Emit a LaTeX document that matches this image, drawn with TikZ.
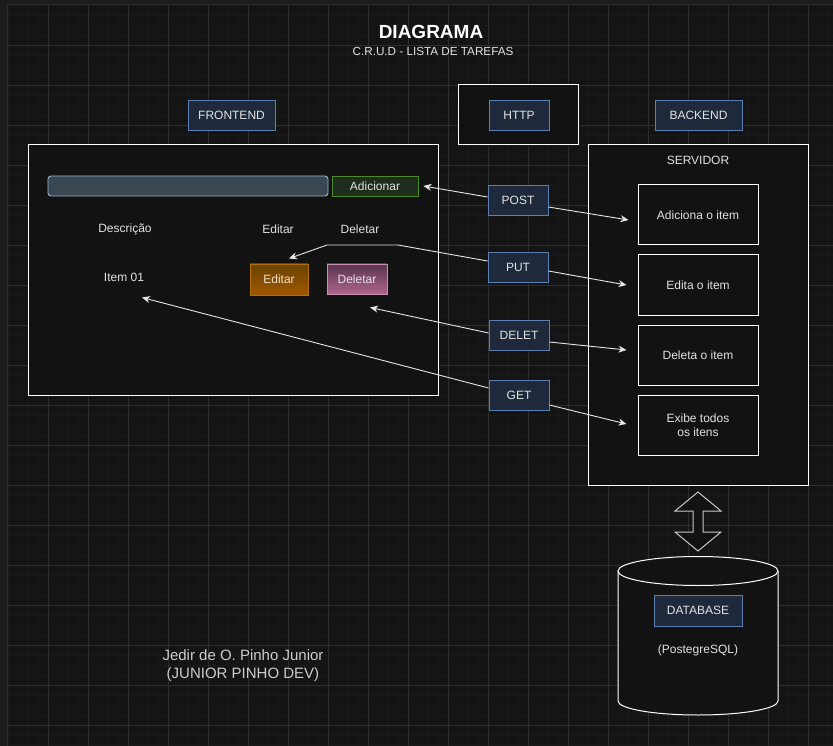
\documentclass[tikz,border=0pt]{standalone}
\usepackage{fontspec}
\setmainfont{Liberation Sans}
\usetikzlibrary{arrows.meta}
\definecolor{bgc}{HTML}{141414}
\definecolor{framec}{HTML}{1C1C1C}
\definecolor{edgec}{HTML}{2A2A2A}
\definecolor{minorc}{HTML}{191919}
\definecolor{majorc}{HTML}{2D2D2D}
\definecolor{boxfill}{HTML}{121212}
\definecolor{navyfill}{HTML}{1E2A3C}
\definecolor{navyline}{HTML}{5B7FAE}
\definecolor{txt}{HTML}{E2E2E2}
\definecolor{arr}{HTML}{E6E6E6}
\definecolor{inputfill}{HTML}{394853}
\definecolor{inputline}{HTML}{9AB8D0}
\definecolor{addfill}{HTML}{1F2E1C}
\definecolor{addline}{HTML}{4C8A2C}
\definecolor{edtop}{HTML}{6A4200}
\definecolor{edbot}{HTML}{A05800}
\definecolor{edline}{HTML}{B07000}
\definecolor{edtxt}{HTML}{F0E1C8}
\definecolor{dltop}{HTML}{58364E}
\definecolor{dlbot}{HTML}{B0648E}
\definecolor{dlline}{HTML}{C890B0}
\definecolor{sigc}{HTML}{CDCDCD}
\definecolor{dblc}{HTML}{C8C8C8}
\newcommand{\fs}[1]{\fontsize{#1}{#1}\selectfont}
\tikzset{
  lbl/.style={text=txt, font=\fs{12}, inner sep=0pt},
  navy/.style={draw=navyline, fill=navyfill, line width=0.9pt, text=txt, font=\fs{12}, inner sep=0pt, minimum width=60pt, minimum height=30pt},
  wbox/.style={draw=white, fill=boxfill, line width=1pt, inner sep=0pt},
  sbox/.style={wbox, text=txt, font=\fs{12}, minimum width=120pt, minimum height=60pt, align=center},
  conn/.style={draw=arr, line width=0.9pt, -{Stealth[length=8pt,width=7pt]}},
}
\begin{document}
\begin{tikzpicture}[x=1pt,y=-1pt]
\useasboundingbox (0,0) rectangle (833,746);
% background
\fill[framec] (0,0) rectangle (833,746);
\fill[bgc] (8,5) rectangle (833,746);
\foreach \i in {0,...,83} {\draw[minorc, line width=0.6pt] (8+10*\i,5) -- (8+10*\i,746);}
\foreach \j in {0,...,74} {\draw[minorc, line width=0.6pt] (8,5+10*\j) -- (833,5+10*\j);}
\foreach \i in {1,...,20} {\draw[majorc, line width=0.8pt] (8+40*\i,5) -- (8+40*\i,746);}
\foreach \j in {1,...,18} {\draw[majorc, line width=0.8pt] (8,5+40*\j) -- (833,5+40*\j);}
\draw[edgec, line width=1pt] (7.5,746) -- (7.5,4.5) -- (833,4.5);

% titles
\node[text=white, font=\bfseries\fs{19}, inner sep=0pt] (title) at (431,32) {DIAGRAMA};
\node[text=txt, font=\fs{11.7}, inner sep=0pt] (sub) at (433,51) {C.R.U.D - LISTA DE TAREFAS};

% header labels
\node[navy, minimum width=87pt] (fe) at (231.5,115) {FRONTEND};
\node[wbox, minimum width=120pt, minimum height=60pt] (httpbox) at (518,115) {};
\node[navy] (http) at (519,115) {HTTP};
\node[navy, minimum width=87pt] (be) at (698.5,115) {BACKEND};

% frontend panel
\node[wbox, minimum width=410pt, minimum height=250pt] (front) at (233,270) {};
\node[draw=inputline, fill=inputfill, line width=0.9pt, rounded corners=3pt, minimum width=280pt, minimum height=20pt, inner sep=0pt] (input) at (188,186) {};
\node[draw=addline, fill=addfill, line width=0.9pt, minimum width=86pt, minimum height=20pt, inner sep=0pt, text=txt, font=\fs{12}] (add) at (375,186) {Adicionar};
\node[lbl] (desc) at (125,229.5) {Descrição};
\node[lbl] (edh) at (278,229.5) {Editar};
\node[lbl] (dlh) at (360,229.5) {Deletar};
\node[lbl] (item) at (124,277.5) {Item 01};
\node[draw=edline, top color=edtop, bottom color=edbot, line width=0.9pt, minimum width=58pt, minimum height=31pt, inner sep=0pt, text=edtxt, font=\fs{12}] (edbtn) at (279,279.5) {Editar};
\node[draw=dlline, top color=dltop, bottom color=dlbot, line width=0.9pt, minimum width=60pt, minimum height=30pt, inner sep=0pt, text=txt, font=\fs{12}] (dlbtn) at (357,279) {Deletar};

% backend panel
\node[wbox, minimum width=220pt, minimum height=340pt] (serv) at (698,315) {};
\node[lbl] (servl) at (698,160.5) {SERVIDOR};
\node[sbox] (adi) at (698,215) {Adiciona o item};
\node[sbox] (edi) at (698,285) {Edita o item};
\node[sbox] (del) at (698,355) {Deleta o item};
\node[sbox] (exi) at (698,425) {Exibe todos\\[2pt]os itens};

% http methods
\node[navy] (post) at (518,200) {POST};
\node[navy] (put) at (518,267) {PUT};
\node[navy] (delet) at (519,335) {DELET};
\node[navy] (get) at (519,395) {GET};

% connectors
\draw[conn] ([yshift=3pt]post.west) -- ([xshift=5pt]add.east);
\draw[conn] ([yshift=-7pt]post.east) -- ([xshift=-9pt,yshift=-5pt]adi.west);
\draw[conn] ([yshift=6pt]put.west) -- (398,245) -- (327,245) -- ([xshift=10pt,yshift=5pt]edbtn.north);
\draw[conn] ([yshift=-4pt]put.east) -- ([xshift=-11pt]edi.west);
\draw[conn] ([yshift=2pt]delet.west) -- ([xshift=13pt,yshift=-13pt]dlbtn.south);
\draw[conn] ([yshift=-7pt]delet.east) -- ([xshift=-11pt,yshift=5pt]del.west);
\draw[conn] ([yshift=7pt]get.west) -- ([xshift=18pt,yshift=-20pt]item.center);
\draw[conn] ([yshift=-10pt]get.east) -- ([xshift=-11pt,yshift=1pt]exi.west);

% double arrow
\draw[draw=dblc, fill=boxfill, line width=1pt, line join=miter]
  (698,492) -- (721,511) -- (703,511) -- (703,532) -- (721,532) -- (698,551)
  -- (675,532) -- (693,532) -- (693,511) -- (675,511) -- cycle;

% database cylinder
\fill[boxfill] (618,571) -- (618,701) arc[start angle=180, end angle=360, x radius=80pt, y radius=14pt] -- (778,571) -- cycle;
\draw[white, line width=1pt] (618,571) -- (618,701) arc[start angle=180, end angle=360, x radius=80pt, y radius=14pt] -- (778,571);
\draw[white, fill=boxfill, line width=1pt] (698,571) ellipse[x radius=80pt, y radius=14.5pt];
\node[navy, minimum width=88pt, minimum height=31pt] (db) at (698,610.5) {DATABASE};
\node[lbl] (pg) at (698,650) {(PostegreSQL)};

% signature
\node[text=sigc, font=\fs{15}, inner sep=0pt, align=center] (sig) at (243,666) {Jedir de O. Pinho Junior\\[3pt](JUNIOR PINHO DEV)};
\end{tikzpicture}
\end{document}
